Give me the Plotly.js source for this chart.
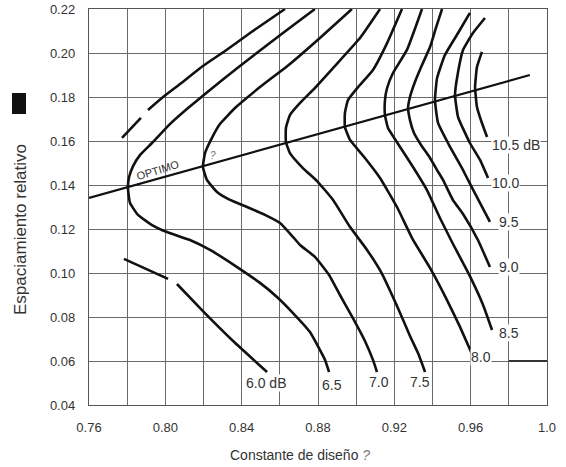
<!DOCTYPE html>
<html>
<head>
<meta charset="utf-8">
<script src="https://cdn.plot.ly/plotly-3.0.1.min.js"></script>
<style>html,body{margin:0;padding:0;background:#fff;}#chart{width:566px;height:467px;}</style>
</head>
<body>
<div id="chart"></div>
<script>
// ---- Axis ticks ----
const xTickVals = [0.76,0.78,0.80,0.82,0.84,0.86,0.88,0.90,0.92,0.94,0.96,0.98,1.00];
const xTickText = ['0.76','','0.80','','0.84','','0.88','','0.92','','0.96','','1.0'];
const yTickVals = [0.04,0.06,0.08,0.10,0.12,0.14,0.16,0.18,0.20,0.22];
const yTickText = ['0.04','0.06','0.08','0.10','0.12','0.14','0.16','0.18','0.20','0.22'];

// ---- Optimum line ----
const optTau = [0.760, 0.991];
const optSig = [0.1341, 0.1900];

// ---- Gain contours (tau = design constant, sig = relative spacing) ----
// 6.0 dB: upper branch (dashed pieces) and lower branch (two pieces)
const tau60a = [0.7773, 0.7872];
const sig60a = [0.1614, 0.1705];
const tau60b = [0.7909, 0.7988, 0.8077, 0.8197, 0.8313, 0.8444, 0.8627];
const sig60b = [0.1741, 0.1800, 0.1859, 0.1941, 0.2009, 0.2091, 0.2200];
const tau60c = [0.7783, 0.8014];
const sig60c = [0.1064, 0.0973];
const tau60d = [0.8061, 0.8197, 0.8355, 0.8533];
const sig60d = [0.0950, 0.0827, 0.0691, 0.0550];

const tau65 = [0.8784,0.8679,0.8575,0.8391,0.8208,0.8119,0.8024,0.7930,0.7867,0.7831,0.7810,0.7804,
               0.7815,0.7857,0.7930,0.8009,0.8129,0.8234,0.8376,0.8496,0.8585,0.8669,0.8758,0.8805,0.8837,0.8858];
const sig65 = [0.2200,0.2132,0.2064,0.1941,0.1814,0.1750,0.1677,0.1591,0.1536,0.1486,0.1436,0.1386,
               0.1318,0.1264,0.1218,0.1186,0.1150,0.1105,0.1027,0.0955,0.0891,0.0818,0.0732,0.0659,0.0605,0.0550];

const tau70 = [0.8978,0.8810,0.8653,0.8496,0.8365,0.8286,0.8239,0.8208,0.8197,
               0.8218,0.8271,0.8339,0.8428,0.8522,0.8601,0.8669,0.8706,0.8784,0.8858,0.8915,0.8983,0.9046,0.9088,0.9109];
const sig70 = [0.2200,0.2068,0.1950,0.1845,0.1750,0.1677,0.1605,0.1545,0.1482,
               0.1423,0.1368,0.1332,0.1300,0.1264,0.1227,0.1164,0.1127,0.1073,0.0991,0.0900,0.0795,0.0691,0.0605,0.0550];

const tau75 = [0.9125,0.9020,0.8879,0.8774,0.8706,0.8653,0.8632,0.8632,
               0.8653,0.8721,0.8795,0.8879,0.8968,0.9057,0.9130,0.9214,0.9282,0.9324,0.9361];
const sig75 = [0.2200,0.2068,0.1932,0.1832,0.1773,0.1718,0.1659,0.1595,
               0.1545,0.1477,0.1418,0.1332,0.1209,0.1105,0.1005,0.0850,0.0714,0.0636,0.0550];

const tau80 = [0.9240,0.9162,0.9088,0.9010,0.8957,0.8941,0.8941,
               0.8968,0.9046,0.9125,0.9214,0.9293,0.9387,0.9476,0.9544,0.9607];
const sig80 = [0.2200,0.2045,0.1923,0.1845,0.1786,0.1727,0.1664,
               0.1605,0.1523,0.1432,0.1300,0.1159,0.1023,0.0877,0.0755,0.0632];

const tau85 = [0.9345,0.9266,0.9193,0.9162,0.9151,0.9151,
               0.9167,0.9230,0.9298,0.9371,0.9439,0.9502,0.9596,0.9665,0.9712];
const sig85 = [0.2200,0.2014,0.1909,0.1841,0.1786,0.1718,
               0.1659,0.1573,0.1482,0.1377,0.1250,0.1141,0.0986,0.0855,0.0741];

const tau90 = [0.9450,0.9418,0.9387,0.9345,0.9308,0.9282,0.9272,
               0.9282,0.9303,0.9340,0.9387,0.9424,0.9455,0.9507,0.9560,0.9638,0.9701];
const sig90 = [0.2200,0.2114,0.2027,0.1945,0.1868,0.1800,0.1750,
               0.1695,0.1636,0.1582,0.1523,0.1468,0.1423,0.1332,0.1268,0.1150,0.1027];

const tau95 = [0.9596,0.9534,0.9465,0.9424,0.9413,0.9429,0.9492,0.9560,0.9586,0.9633,0.9701];
const sig95 = [0.2182,0.2091,0.1991,0.1886,0.1786,0.1682,0.1573,0.1468,0.1423,0.1345,0.1232];

const tau100 = [0.9675,0.9612,0.9560,0.9534,0.9518,0.9534,0.9596,0.9649,0.9691];
const sig100 = [0.2159,0.2091,0.2014,0.1914,0.1809,0.1709,0.1591,0.1514,0.1432];

const tau105 = [0.9659,0.9633,0.9623,0.9633,0.9659,0.9686];
const sig105 = [0.2005,0.1936,0.1845,0.1755,0.1682,0.1618];

// ---- Contour labels ----
const labelText  = ['10.5 dB','10.0','9.5','9.0','8.5','8.0','7.5','7.0','6.5','6.0 dB'];
const labelTau   = [0.9838, 0.9785, 0.9801, 0.9801, 0.9801, 0.9654, 0.9334, 0.9120, 0.8873, 0.8527];
const labelSig   = [0.1582, 0.1409, 0.1232, 0.1027, 0.0727, 0.0618, 0.0505, 0.0505, 0.0491, 0.0500];

const FONT = 'Liberation Sans, Arial, Helvetica, sans-serif';
const curveStyle = {color:'#111', width:2.6};

function tr(x, y, w) {
  return {x:x, y:y, type:'scatter', mode:'lines', hoverinfo:'skip', showlegend:false,
          line:{color:curveStyle.color, width:(w||curveStyle.width), shape:'spline', smoothing:0.4}};
}

const data = [
  tr(optTau, optSig, 2.2),
  tr(tau60a, sig60a), tr(tau60b, sig60b), tr(tau60c, sig60c), tr(tau60d, sig60d),
  tr(tau65, sig65), tr(tau70, sig70), tr(tau75, sig75), tr(tau80, sig80),
  tr(tau85, sig85), tr(tau90, sig90), tr(tau95, sig95), tr(tau100, sig100), tr(tau105, sig105)
];

const annotations = labelText.map((t,i) => ({
  x: labelTau[i], y: labelSig[i], xref:'x', yref:'y', text: t, showarrow:false,
  font:{family:FONT, size:14, color:'#333'}, bgcolor:'#fff', borderpad:0,
  xanchor:'center', yanchor:'middle'
}));

annotations.push({x:0.7962, y:0.1468, xref:'x', yref:'y', text:'OPTIMO', showarrow:false,
  textangle:-17, font:{family:FONT, size:11, color:'#333'}});
annotations.push({x:0.8250, y:0.1532, xref:'x', yref:'y', text:'<i>?</i>', showarrow:false,
  font:{family:FONT, size:10, color:'#777'}});
annotations.push({x:(300-89)/458, y:(405-455)/396, xref:'paper', yref:'paper',
  text:'Constante de diseño <span style="color:#777"><i>?</i></span>', showarrow:false,
  xanchor:'center', yanchor:'middle', font:{family:FONT, size:14, color:'#333'}});
annotations.push({x:(20-89)/458, y:(405-230)/396, xref:'paper', yref:'paper',
  text:'Espaciamiento relativo', showarrow:false, textangle:-90,
  xanchor:'center', yanchor:'middle', font:{family:FONT, size:17, color:'#333'}});

const layout = {
  width:566, height:467,
  margin:{l:89, r:19, t:9, b:62},
  paper_bgcolor:'#fff', plot_bgcolor:'#fff',
  showlegend:false,
  xaxis:{range:[0.76,1.0], tickvals:xTickVals, ticktext:xTickText, ticks:'',
    showgrid:true, gridcolor:'#6a6a6a', gridwidth:1, zeroline:false,
    showline:true, linecolor:'#555', linewidth:1.2, mirror:true,
    ticklabelstandoff:10, tickfont:{family:FONT, size:13, color:'#333'}},
  yaxis:{range:[0.04,0.22], tickvals:yTickVals, ticktext:yTickText, ticks:'',
    showgrid:true, gridcolor:'#6a6a6a', gridwidth:1, zeroline:false,
    showline:true, linecolor:'#555', linewidth:1.2, mirror:true,
    ticklabelstandoff:10, tickfont:{family:FONT, size:13, color:'#333'}},
  annotations: annotations,
  shapes:[
    {type:'rect', xref:'paper', yref:'paper', x0:(12-89)/458, x1:(26-89)/458,
     y0:(405-114)/396, y1:(405-93)/396, fillcolor:'#111', line:{width:0}},
    {type:'line', xref:'x', yref:'y', x0:0.98, x1:1.0, y0:0.06, y1:0.06,
     line:{color:'#333', width:2}}
  ]
};

Plotly.newPlot('chart', data, layout, {staticPlot:true, displayModeBar:false});
</script>
</body>
</html>
